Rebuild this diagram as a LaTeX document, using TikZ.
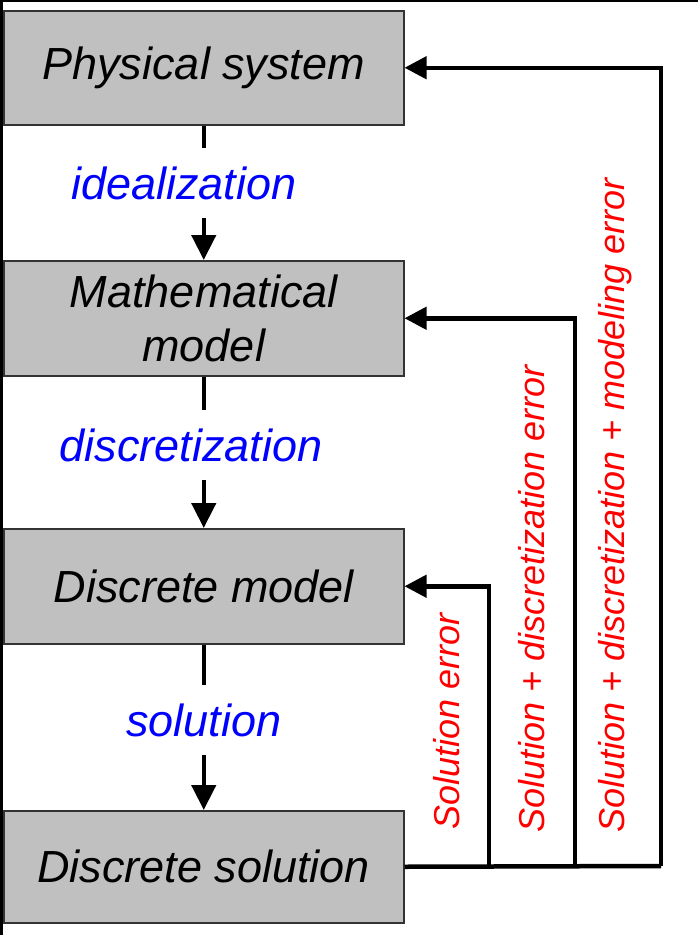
\documentclass[tikz,border=0pt]{standalone}
\usepackage{fontspec}
\setmainfont{Liberation Sans}
\usetikzlibrary{arrows.meta}
\begin{document}
\begin{tikzpicture}[x=1pt,y=-1pt,
  box/.style={draw=black!80, line width=1.5pt, fill={rgb,255:red,192;green,192;blue,192},
    anchor=north west, minimum width=400pt, inner sep=0pt, align=center,
    font=\fontsize{45}{54}\selectfont\itshape},
  flow/.style={line width=4.5pt, -{Triangle[length=25pt,width=24pt]}},
  fb/.style={line width=4.5pt, line join=miter},
  fbarrow/.style={fb, -{Triangle[length=22pt,width=22pt]}},
  steplabel/.style={fill=white, inner xsep=4pt, minimum height=70pt, text=blue,
    font=\fontsize{45}{54}\selectfont\itshape},
  errlabel/.style={rotate=90, anchor=west, inner sep=0pt, text=red,
    font=\fontsize{36}{43}\selectfont\itshape}]
\useasboundingbox (0,0) rectangle (698,935);
\fill[white] (0,0) rectangle (698,935);
% frame
\fill[black] (0,0) rectangle (698,2);
\fill[black] (0,0) rectangle (3,935);
% boxes
\node[box, minimum height=114pt] (b1) at (3,10) {Physical system};
\node[box, minimum height=115pt] (b2) at (3,260) {Mathematical\\model};
\node[box, minimum height=115pt] (b3) at (3,528) {Discrete model};
\node[box, minimum height=112pt] (b4) at (3,810) {Discrete solution};
% down arrows
\draw[flow] (b1.south) -- (b2.north);
\draw[flow] (b2.south) -- (b3.north);
\draw[flow] (b3.south) -- (b4.north);
\node[steplabel] (l1) at (184,183) {idealization};
\node[steplabel] (l2) at (191,445) {discretization};
\node[steplabel] (l3) at (204,720) {solution};
% feedback
\coordinate (c1) at (489,866);
\coordinate (c2) at (575,866);
\coordinate (c3) at (661,866);
\draw[fb] (b4.east) -- (c3);
\draw[fbarrow] (c1) |- (b3.east);
\draw[fbarrow] (c2) |- (b2.east);
\draw[fbarrow] (c3) |- (b1.east);
% error labels
\node[errlabel] (e1) at (447,830) {Solution error};
\node[errlabel] (e2) at (532,833) {Solution + discretization error};
\node[errlabel] (e3) at (615,833) {Solution + discretization + modeling error};
\end{tikzpicture}
\end{document}
